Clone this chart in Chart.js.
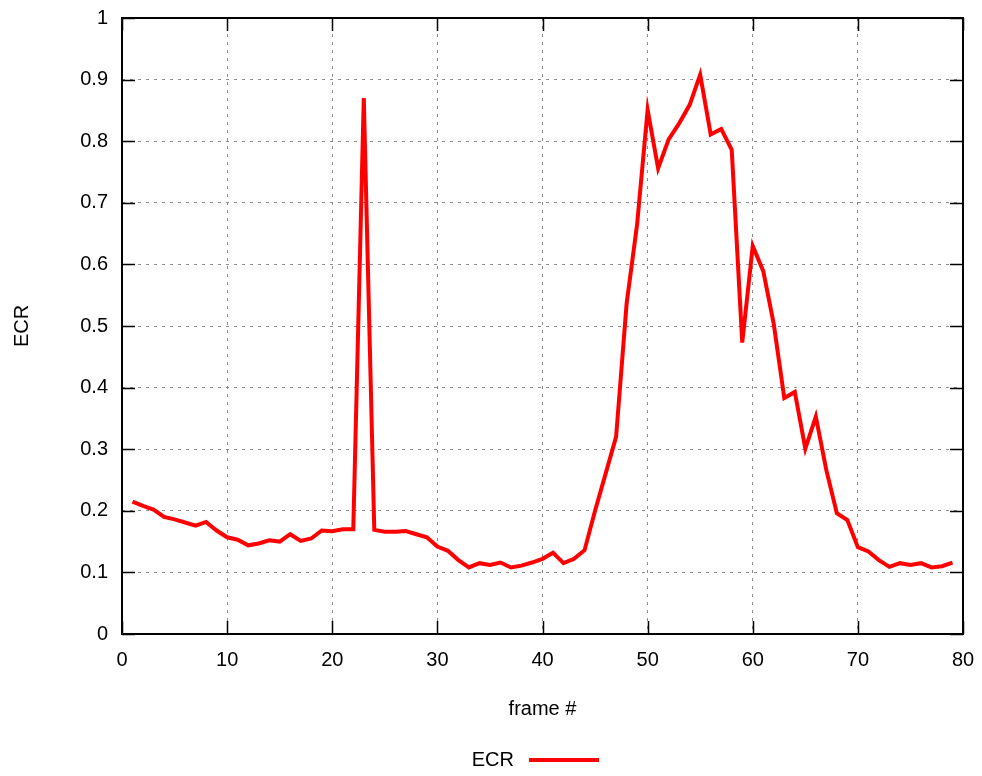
<!DOCTYPE html>
<html>
<head>
<meta charset="utf-8">
<script src="https://cdn.jsdelivr.net/npm/chart.js@4.4.1/dist/chart.umd.min.js"></script>
<style>
  html, body { margin: 0; padding: 0; background: #fff; }
  #wrap { width: 982px; height: 776px; }
</style>
</head>
<body>
<div id="wrap"><canvas id="ecrChart" width="982" height="776"></canvas></div>
<script>
// Frame numbers (x) and ECR values (y)
const frames = [];
for (let i = 1; i <= 79; i++) frames.push(i);

const ecrValues = [
    0.215, 0.208, 0.202, 0.190, 0.186, 0.181, 0.176, 0.182, 0.168, 0.157,
    0.153, 0.144, 0.147, 0.152, 0.150, 0.162, 0.151, 0.155, 0.168, 0.167,
    0.170, 0.170, 0.870, 0.169, 0.166, 0.166, 0.167, 0.162, 0.157, 0.142,
    0.135, 0.120, 0.108, 0.115, 0.112, 0.116, 0.108, 0.111, 0.116, 0.122,
    0.132, 0.115, 0.122, 0.136, 0.200, 0.260, 0.320, 0.536, 0.665, 0.851,
    0.756, 0.803, 0.829, 0.859, 0.908, 0.811, 0.820, 0.786, 0.473, 0.630,
    0.589, 0.503, 0.383, 0.393, 0.301, 0.353, 0.266, 0.196, 0.185, 0.141,
    0.134, 0.120, 0.109, 0.115, 0.112, 0.115, 0.108, 0.110, 0.116
];

const xTicks = [0, 10, 20, 30, 40, 50, 60, 70, 80];
const yTicks = [0, 0.1, 0.2, 0.3, 0.4, 0.5, 0.6, 0.7, 0.8, 0.9, 1];

const FONT = 'Liberation Sans, Arial, sans-serif';

// gnuplot style frame: border plus inward ticks on all four sides
const framePlugin = {
    id: 'frameBorder',
    afterDatasetsDraw(chart) {
        const { ctx, chartArea: a, scales } = chart;
        const len = 13;
        ctx.save();
        ctx.strokeStyle = '#000';
        ctx.lineWidth = 1.5;
        ctx.beginPath();
        xTicks.forEach(v => {
            const x = Math.round(scales.x.getPixelForValue(v)) + 0.5;
            ctx.moveTo(x, a.bottom); ctx.lineTo(x, a.bottom - len);
            ctx.moveTo(x, a.top); ctx.lineTo(x, a.top + len);
        });
        yTicks.forEach(v => {
            const y = Math.round(scales.y.getPixelForValue(v)) + 0.5;
            ctx.moveTo(a.left, y); ctx.lineTo(a.left + len, y);
            ctx.moveTo(a.right, y); ctx.lineTo(a.right - len, y);
        });
        ctx.stroke();
        ctx.lineWidth = 2;
        ctx.strokeRect(a.left, a.top, a.right - a.left, a.bottom - a.top);
        ctx.restore();
    }
};

// Legend below the axis title: label then line sample
const legendPlugin = {
    id: 'bottomLegend',
    afterDraw(chart) {
        const { ctx } = chart;
        const ds = chart.data.datasets[0];
        const y = 760;
        ctx.save();
        ctx.font = '20px ' + FONT;
        ctx.fillStyle = '#000';
        ctx.textAlign = 'right';
        ctx.textBaseline = 'middle';
        ctx.fillText(ds.label, 514, y);
        ctx.strokeStyle = ds.borderColor;
        ctx.lineWidth = 4;
        ctx.beginPath();
        ctx.moveTo(529, y);
        ctx.lineTo(599, y);
        ctx.stroke();
        ctx.restore();
    }
};

const ctx = document.getElementById('ecrChart').getContext('2d');
new Chart(ctx, {
    type: 'line',
    data: {
        datasets: [{
            label: 'ECR',
            data: frames.map((f, i) => ({ x: f, y: ecrValues[i] })),
            borderColor: '#ff0000',
            borderWidth: 4,
            pointRadius: 0,
            tension: 0,
            fill: false
        }]
    },
    options: {
        responsive: false,
        animation: false,
        devicePixelRatio: 1,
        layout: {
            padding: { top: 18, right: 19, bottom: 42, left: 0 }
        },
        plugins: {
            legend: { display: false },
            tooltip: { enabled: false }
        },
        scales: {
            x: {
                type: 'linear',
                min: 0,
                max: 80,
                afterFit: scale => {
                    scale.height = 100;
                    scale.paddingLeft = 0;
                    scale.paddingRight = 0;
                },
                afterBuildTicks: scale => { scale.ticks = xTicks.map(v => ({ value: v })); },
                border: { display: false, dash: [3, 5] },
                grid: {
                    color: '#8c8c8c',
                    lineWidth: 1,
                    drawTicks: false
                },
                ticks: {
                    color: '#000',
                    font: { family: FONT, size: 20 },
                    padding: 14,
                    maxRotation: 0
                },
                title: {
                    display: true,
                    text: 'frame #',
                    color: '#000',
                    font: { family: FONT, size: 20 },
                    padding: { top: 0, bottom: 13 }
                }
            },
            y: {
                type: 'linear',
                min: 0,
                max: 1,
                afterFit: scale => {
                    scale.width = 122;
                    scale.paddingTop = 0;
                    scale.paddingBottom = 0;
                },
                afterBuildTicks: scale => { scale.ticks = yTicks.map(v => ({ value: v })); },
                border: { display: false, dash: [3, 5] },
                grid: {
                    color: '#8c8c8c',
                    lineWidth: 1,
                    drawTicks: false
                },
                ticks: {
                    color: '#000',
                    font: { family: FONT, size: 20 },
                    padding: 14,
                    callback: v => String(Math.round(v * 10) / 10)
                },
                title: {
                    display: true,
                    text: 'ECR',
                    color: '#000',
                    font: { family: FONT, size: 20 },
                    padding: { top: 10, bottom: 0 }
                }
            }
        }
    },
    plugins: [framePlugin, legendPlugin]
});
</script>
</body>
</html>
